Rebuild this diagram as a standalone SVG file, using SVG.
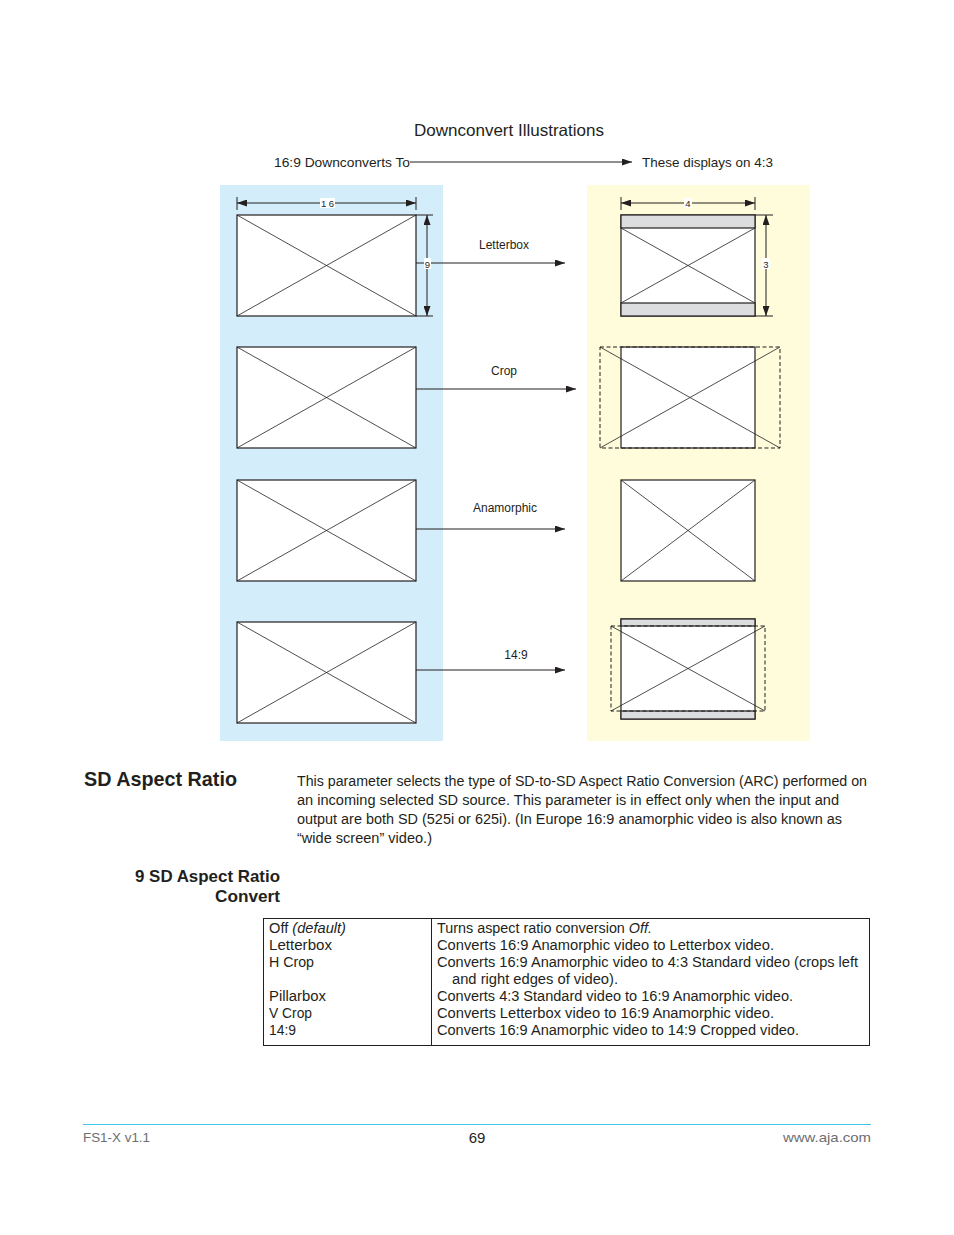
<svg xmlns="http://www.w3.org/2000/svg" width="954" height="1235" viewBox="0 0 954 1235">
<style>
.t{font-family:"Liberation Sans",Arial,sans-serif;fill:#231f20}
.box{fill:#fff;stroke:#231f20;stroke-width:1.2}
.x{stroke:#231f20;stroke-width:0.8;fill:none}
.bar{fill:#dcdddf;stroke:#231f20;stroke-width:1.2}
.dash{fill:none;stroke:#231f20;stroke-width:1;stroke-dasharray:4,2.5}
.ln{stroke:#231f20;stroke-width:1;fill:none}
.dim{stroke:#231f20;stroke-width:1;fill:none}
.lbl{font-family:"Liberation Sans",Arial,sans-serif;font-size:12px;fill:#231f20}
.dl{font-family:"Liberation Sans",Arial,sans-serif;font-size:9.5px;fill:#231f20}
</style>
<defs>
<marker id="ah" viewBox="0 0 10 7" refX="10" refY="3.5" markerWidth="10" markerHeight="7" markerUnits="userSpaceOnUse" orient="auto">
<path d="M0,0 L10,3.5 L0,7 Z" fill="#231f20"/>
</marker>
<marker id="ahs" viewBox="0 0 10 7" refX="0" refY="3.5" markerWidth="10" markerHeight="7" markerUnits="userSpaceOnUse" orient="auto">
<path d="M10,0 L0,3.5 L10,7 Z" fill="#231f20"/>
</marker>
</defs>
<rect width="954" height="1235" fill="#fff"/>

<text class="t" x="509" y="136" font-size="16.5" text-anchor="middle" textLength="190" lengthAdjust="spacingAndGlyphs">Downconvert Illustrations</text>
<text class="t" x="274" y="167" font-size="13.5" textLength="136" lengthAdjust="spacingAndGlyphs">16:9 Downconverts To</text>
<text class="t" x="642" y="167" font-size="13.5" textLength="131" lengthAdjust="spacingAndGlyphs">These displays on 4:3</text>

<rect x="220" y="185" width="223" height="556" fill="#d4edfa"/>
<rect x="587" y="185" width="223" height="556" fill="#fefcdb"/>

<g id="connectors">
<line class="ln" x1="410" y1="162" x2="632" y2="162" marker-end="url(#ah)"/>
<line class="ln" x1="416" y1="263" x2="565" y2="263" marker-end="url(#ah)"/>
<line class="ln" x1="414" y1="389" x2="576" y2="389" marker-end="url(#ah)"/>
<line class="ln" x1="416" y1="529" x2="565" y2="529" marker-end="url(#ah)"/>
<line class="ln" x1="416" y1="670" x2="565" y2="670" marker-end="url(#ah)"/>
<text class="lbl" x="504" y="249" text-anchor="middle">Letterbox</text>
<text class="lbl" x="504" y="375" text-anchor="middle">Crop</text>
<text class="lbl" x="505" y="512" text-anchor="middle">Anamorphic</text>
<text class="lbl" x="516" y="659" text-anchor="middle">14:9</text>
</g>

<g id="src-letterbox">
<rect class="box" x="237" y="215" width="179" height="101"/>
<path class="x" d="M237,215 L416,316 M416,215 L237,316"/>
<line class="dim" x1="237" y1="197" x2="237" y2="210"/>
<line class="dim" x1="416" y1="197" x2="416" y2="210"/>
<line class="dim" x1="237" y1="203" x2="416" y2="203" marker-start="url(#ahs)" marker-end="url(#ah)"/>
<rect x="320" y="198" width="15" height="10" fill="#fff"/>
<text class="dl" x="327.5" y="206.5" text-anchor="middle">1 6</text>
<line class="dim" x1="416" y1="215" x2="433" y2="215"/>
<line class="dim" x1="416" y1="316" x2="433" y2="316"/>
<line class="dim" x1="427" y1="215" x2="427" y2="316" marker-start="url(#ahs)" marker-end="url(#ah)"/>
<rect x="424" y="258" width="7" height="11" fill="#fff"/>
<text class="dl" x="427.5" y="267.5" text-anchor="middle">9</text>
</g>

<g id="src-crop">
<rect class="box" x="237" y="347" width="179" height="101"/>
<path class="x" d="M237,347 L416,448 M416,347 L237,448"/>
</g>

<g id="src-anamorphic">
<rect class="box" x="237" y="480" width="179" height="101"/>
<path class="x" d="M237,480 L416,581 M416,480 L237,581"/>
</g>

<g id="src-149">
<rect class="box" x="237" y="622" width="179" height="101"/>
<path class="x" d="M237,622 L416,723 M416,622 L237,723"/>
</g>

<g id="dst-letterbox">
<rect class="box" x="621" y="215" width="134" height="101"/>
<rect class="bar" x="621" y="215" width="134" height="13"/>
<rect class="bar" x="621" y="303" width="134" height="13"/>
<path class="x" d="M621,228 L755,303 M755,228 L621,303"/>
<line class="dim" x1="621" y1="197" x2="621" y2="210"/>
<line class="dim" x1="755" y1="197" x2="755" y2="210"/>
<line class="dim" x1="621" y1="203" x2="755" y2="203" marker-start="url(#ahs)" marker-end="url(#ah)"/>
<rect x="684" y="198" width="8" height="10" fill="#fff"/>
<text class="dl" x="688" y="206.5" text-anchor="middle">4</text>
<line class="dim" x1="755" y1="215" x2="773" y2="215"/>
<line class="dim" x1="755" y1="316" x2="773" y2="316"/>
<line class="dim" x1="766" y1="215" x2="766" y2="316" marker-start="url(#ahs)" marker-end="url(#ah)"/>
<rect x="762" y="258" width="8" height="11" fill="#fff"/>
<text class="dl" x="766" y="267.5" text-anchor="middle">3</text>
</g>

<g id="dst-crop">
<rect class="box" x="621" y="347" width="134" height="101"/>
<rect class="dash" x="600" y="347" width="180" height="101"/>
<path class="x" d="M600,347 L780,448 M780,347 L600,448"/>
</g>

<g id="dst-anamorphic">
<rect class="box" x="621" y="480" width="134" height="101"/>
<path class="x" d="M621,480 L755,581 M755,480 L621,581"/>
</g>

<g id="dst-149">
<rect class="box" x="621" y="619" width="134" height="100"/>
<rect class="bar" x="621" y="619" width="134" height="7"/>
<rect class="bar" x="621" y="711" width="134" height="8"/>
<rect class="dash" x="611" y="626" width="154" height="85"/>
<path class="x" d="M611,626 L765,711 M765,626 L611,711"/>
</g>

<g id="section">
<text class="t" x="84" y="786" font-size="20.5" font-weight="bold" textLength="153" lengthAdjust="spacingAndGlyphs">SD Aspect Ratio</text>
<text class="t" x="297" y="786" font-size="14" textLength="570" lengthAdjust="spacingAndGlyphs">This parameter selects the type of SD-to-SD Aspect Ratio Conversion (ARC) performed on</text>
<text class="t" x="297" y="805" font-size="14" textLength="542" lengthAdjust="spacingAndGlyphs">an incoming selected SD source. This parameter is in effect only when the input and</text>
<text class="t" x="297" y="824" font-size="14" textLength="545" lengthAdjust="spacingAndGlyphs">output are both SD (525i or 625i). (In Europe 16:9 anamorphic video is also known as</text>
<text class="t" x="297" y="843" font-size="14" textLength="135" lengthAdjust="spacingAndGlyphs">“wide screen” video.)</text>
<text class="t" x="280" y="882" font-size="16.5" font-weight="bold" text-anchor="end" textLength="145" lengthAdjust="spacingAndGlyphs">9 SD Aspect Ratio</text>
<text class="t" x="280" y="902" font-size="16.5" font-weight="bold" text-anchor="end" textLength="65" lengthAdjust="spacingAndGlyphs">Convert</text>
</g>

<g id="table">
<rect x="263.5" y="918.5" width="606" height="127" fill="none" stroke="#231f20" stroke-width="1"/>
<line x1="431.5" y1="918.5" x2="431.5" y2="1045.5" stroke="#231f20" stroke-width="1"/>
<g class="t" font-size="14">
<text x="269" y="933" textLength="77" lengthAdjust="spacingAndGlyphs">Off <tspan font-style="italic">(default)</tspan></text>
<text x="269" y="950" textLength="63" lengthAdjust="spacingAndGlyphs">Letterbox</text>
<text x="269" y="967" textLength="45" lengthAdjust="spacingAndGlyphs">H Crop</text>
<text x="269" y="1001" textLength="57" lengthAdjust="spacingAndGlyphs">Pillarbox</text>
<text x="269" y="1018" textLength="43" lengthAdjust="spacingAndGlyphs">V Crop</text>
<text x="269" y="1035" textLength="27" lengthAdjust="spacingAndGlyphs">14:9</text>
<text x="437" y="933" textLength="215" lengthAdjust="spacingAndGlyphs">Turns aspect ratio conversion <tspan font-style="italic">Off.</tspan></text>
<text x="437" y="950" textLength="337" lengthAdjust="spacingAndGlyphs">Converts 16:9 Anamorphic video to Letterbox video.</text>
<text x="437" y="967" textLength="421" lengthAdjust="spacingAndGlyphs">Converts 16:9 Anamorphic video to 4:3 Standard video (crops left</text>
<text x="452" y="984" textLength="166" lengthAdjust="spacingAndGlyphs">and right edges of video).</text>
<text x="437" y="1001" textLength="356" lengthAdjust="spacingAndGlyphs">Converts 4:3 Standard video to 16:9 Anamorphic video.</text>
<text x="437" y="1018" textLength="337" lengthAdjust="spacingAndGlyphs">Converts Letterbox video to 16:9 Anamorphic video.</text>
<text x="437" y="1035" textLength="362" lengthAdjust="spacingAndGlyphs">Converts 16:9 Anamorphic video to 14:9 Cropped video.</text>
</g>
</g>

<g id="footer">
<line x1="83" y1="1124.5" x2="871" y2="1124.5" stroke="#3ec6ea" stroke-width="1"/>
<text x="83" y="1142" font-family="Liberation Sans, Arial, sans-serif" font-size="13" fill="#6d6e71" textLength="67" lengthAdjust="spacingAndGlyphs">FS1-X v1.1</text>
<text x="477" y="1143" font-family="Liberation Sans, Arial, sans-serif" font-size="15" fill="#231f20" text-anchor="middle">69</text>
<text x="871" y="1142" font-family="Liberation Sans, Arial, sans-serif" font-size="13" fill="#6d6e71" text-anchor="end" textLength="88" lengthAdjust="spacingAndGlyphs">www.aja.com</text>
</g>
</svg>
